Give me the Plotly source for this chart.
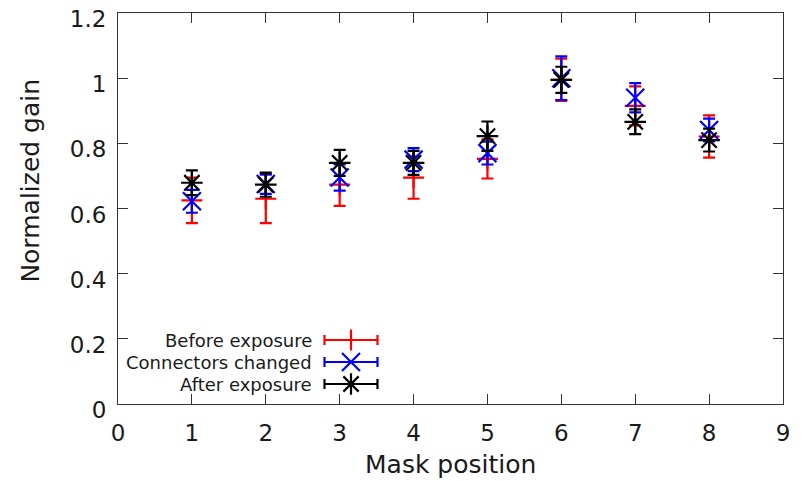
import plotly.graph_objects as go

positions = [1, 2, 3, 4, 5, 6, 7, 8]

before = [0.625, 0.63, 0.673, 0.695, 0.752, 0.995, 0.915, 0.821]
before_err = [0.07, 0.075, 0.065, 0.065, 0.06, 0.065, 0.06, 0.065]

connectors = [0.622, 0.675, 0.695, 0.75, 0.77, 1.0, 0.94, 0.841]
connectors_err = [0.035, 0.03, 0.04, 0.035, 0.035, 0.067, 0.045, 0.035]

after = [0.679, 0.673, 0.74, 0.74, 0.822, 0.995, 0.866, 0.81]
after_err = [0.038, 0.037, 0.04, 0.037, 0.045, 0.04, 0.038, 0.035]

series_names = ["Before exposure", "Connectors changed", "After exposure"]
colors = ["#ff0000", "#0000ff", "#000000"]
symbols = ["cross-thin", "x-thin", "asterisk"]
sizes = [15, 18, 18]
values = [before, connectors, after]
errors = [before_err, connectors_err, after_err]

FONT = "DejaVu Sans, Liberation Sans, Arial, sans-serif"
TXT = "#1a1a1a"

fig = go.Figure()
for name, col, sym, sz, v, e in zip(series_names, colors, symbols, sizes, values, errors):
    fig.add_trace(go.Scatter(
        x=positions, y=v, mode="markers", name=name, showlegend=False,
        marker=dict(symbol=sym, size=sz, color=col, line=dict(color=col, width=2.2)),
        error_y=dict(type="data", array=e, visible=True, color=col, thickness=2.2, width=6),
    ))

# gnuplot-style key (text right-aligned, sample on the right) drawn on a pixel-unit overlay axis
key_y = [64, 42, 20]
for name, col, sym, sz, ky in zip(series_names, colors, symbols, sizes, key_y):
    fig.add_trace(go.Scatter(
        x=[233], y=[ky], mode="markers", showlegend=False, xaxis="x2", yaxis="y2",
        marker=dict(symbol=sym, size=sz, color=col, line=dict(color=col, width=2.2)),
        error_x=dict(type="constant", value=26.5, visible=True, color=col, thickness=2.2, width=5),
    ))
    fig.add_annotation(x=196, y=ky, xref="x2", yref="y2", text=name, showarrow=False,
                       xanchor="right", yanchor="middle",
                       font=dict(family=FONT, size=18, color=TXT))

fig.add_annotation(x=0.5, y=-0.156, xref="paper", yref="paper", text="Mask position",
                   showarrow=False, xanchor="center", yanchor="middle",
                   font=dict(family=FONT, size=25, color=TXT))
fig.add_annotation(x=-0.131, y=0.571, xref="paper", yref="paper", text="Normalized gain",
                   showarrow=False, xanchor="center", yanchor="middle", textangle=-90,
                   font=dict(family=FONT, size=25, color=TXT))

axis_common = dict(showline=True, linecolor="#333333", linewidth=1, mirror="ticks",
                   ticks="inside", ticklen=10, tickcolor="#333333", tickwidth=1,
                   showgrid=False, zeroline=False, ticklabeloverflow="allow",
                   automargin=False,
                   tickfont=dict(family=FONT, size=23, color=TXT))

fig.update_layout(
    width=808, height=481,
    margin=dict(l=118, r=25, t=13, b=77, autoexpand=False),
    plot_bgcolor="white", paper_bgcolor="white",
    xaxis=dict(range=[0, 9], tickvals=list(range(10)), ticklabelstandoff=8, **axis_common),
    yaxis=dict(range=[0, 1.2], tickvals=[0, 0.2, 0.4, 0.6, 0.8, 1.0, 1.2],
               ticktext=["0", "0.2", "0.4", "0.6", "0.8", "1", "1.2"],
               ticklabelstandoff=6, ticklabelshift=6, **axis_common),
    xaxis2=dict(domain=[0, 1], range=[0, 665], visible=False, overlaying="x", anchor="y2"),
    yaxis2=dict(domain=[0, 1], range=[0, 391], visible=False, overlaying="y", anchor="x2"),
    showlegend=False,
)

fig.write_html("out.html")
